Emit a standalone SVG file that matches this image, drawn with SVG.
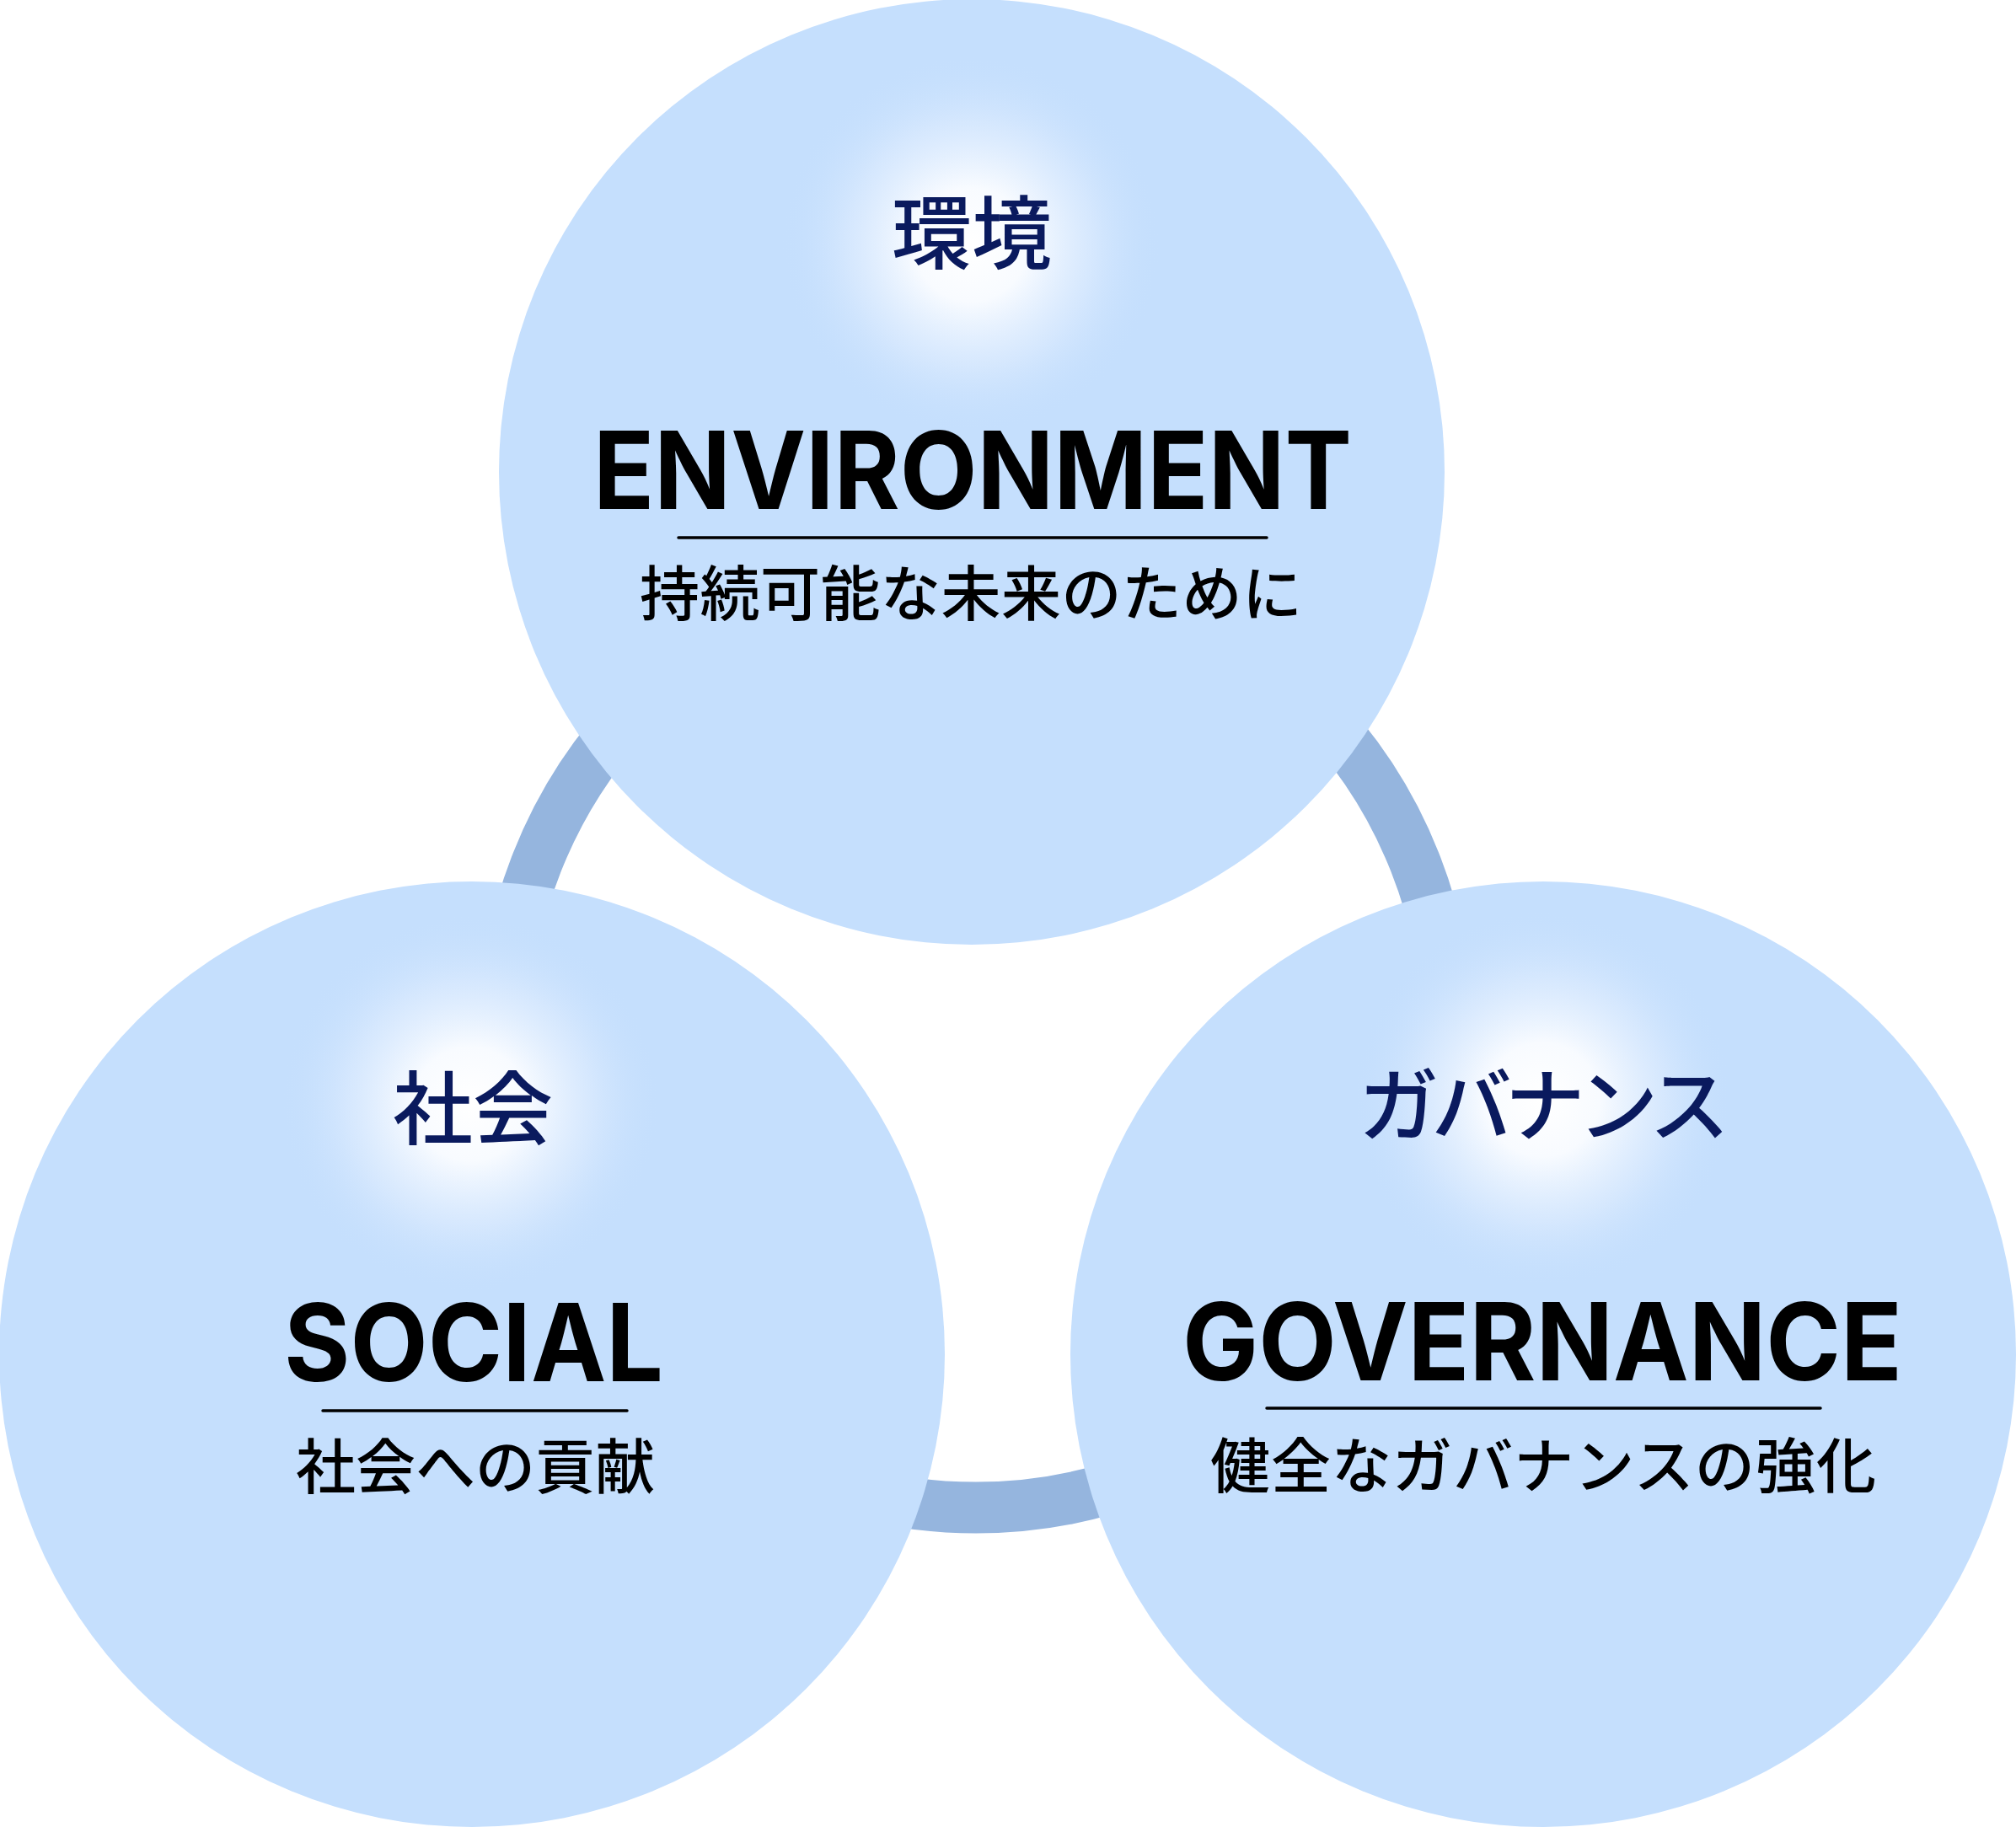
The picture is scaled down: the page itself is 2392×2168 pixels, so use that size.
<svg xmlns="http://www.w3.org/2000/svg" width="2392" height="2168" viewBox="0 0 2392 2168">
<defs>
<radialGradient id="glow">
<stop offset="0" stop-color="#ffffff" stop-opacity="1"/>
<stop offset="0.3" stop-color="#f8fbff" stop-opacity="1"/>
<stop offset="0.65" stop-color="#dcebfe" stop-opacity="0.7"/>
<stop offset="1" stop-color="#c5dffd" stop-opacity="0"/>
</radialGradient>
<style>
.disc{fill:#c5dffd}
.ja{font-family:"Noto Sans CJK JP","Noto Sans",sans-serif;fill:#0a1a5e;font-size:95px;font-weight:500;text-anchor:middle}
.en{font-family:Inter,"Liberation Sans",sans-serif;fill:#000;font-size:128px;font-weight:700;text-anchor:middle}
.sub{font-family:"Noto Sans CJK JP","Noto Sans",sans-serif;fill:#000;font-size:71px;font-weight:500;text-anchor:middle}
.rule{stroke:#000;stroke-width:3.5;stroke-linecap:round}
</style>
</defs>
<rect width="2392" height="2168" fill="#ffffff"/>
<g id="connectors">
<circle cx="1158" cy="1229" r="560" fill="none" stroke="#95b5de" stroke-width="61"/>
</g>
<g id="environment">
<circle class="disc" cx="1153" cy="560" r="561"/>
<circle cx="1152" cy="290" r="225" fill="url(#glow)"/>
<text class="ja" x="1153" y="312">環境</text>
<text class="en" x="1154" y="604" textLength="900" lengthAdjust="spacingAndGlyphs">ENVIRONMENT</text>
<line class="rule" x1="805" y1="638" x2="1503" y2="638"/>
<text class="sub" x="1152" y="730" textLength="786">持続可能な未来のために</text>
</g>
<g id="social">
<circle class="disc" cx="560" cy="1607" r="561"/>
<circle cx="558" cy="1310" r="225" fill="url(#glow)"/>
<text class="ja" x="561" y="1351">社会</text>
<text class="en" x="562" y="1639" textLength="450" lengthAdjust="spacingAndGlyphs">SOCIAL</text>
<line class="rule" x1="383" y1="1674" x2="744" y2="1674"/>
<text class="sub" x="564" y="1766">社会への貢献</text>
</g>
<g id="governance">
<circle class="disc" cx="1831" cy="1607" r="561"/>
<circle cx="1830" cy="1305" r="225" fill="url(#glow)"/>
<text class="ja" x="1832" y="1347" textLength="440">ガバナンス</text>
<text class="en" x="1830" y="1638" textLength="854" lengthAdjust="spacingAndGlyphs">GOVERNANCE</text>
<line class="rule" x1="1503" y1="1671" x2="2160" y2="1671"/>
<text class="sub" x="1831" y="1765" textLength="790">健全なガバナンスの強化</text>
</g>
</svg>
